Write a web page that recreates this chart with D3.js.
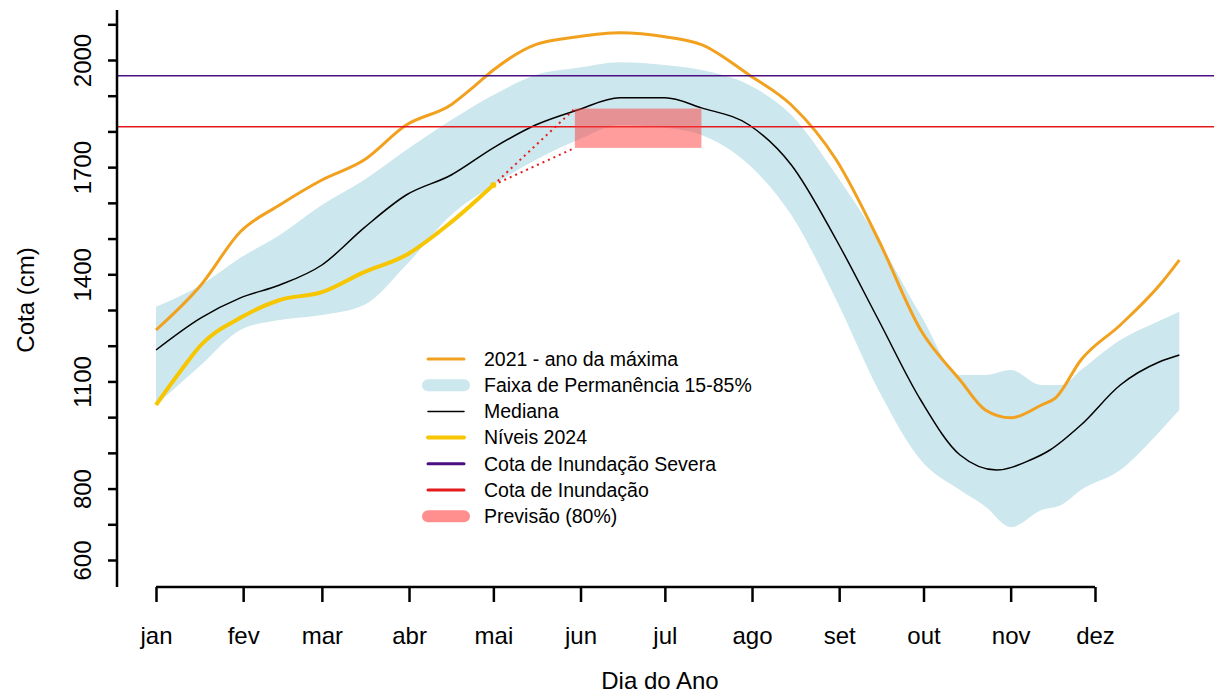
<!DOCTYPE html>
<html><head><meta charset="utf-8">
<script src="https://cdn.jsdelivr.net/npm/d3@7"></script>
<style>body{margin:0;background:#fff}svg{font-family:"Liberation Sans",Arial,sans-serif}</style>
</head><body>
<svg id="main" width="1214" height="695"></svg>
<script>
const months = ['jan','fev','mar','abr','mai','jun','jul','ago','set','out','nov','dez']
const monthDays = [1,32,60,91,121,152,182,213,244,274,305,335]
const yTicks = d3.range(600, 2101, 100)
const yLabels = [600,800,1100,1400,1700,2000]

const maxDays = [1,17,31,45,60,75,90,106,114,121,136,151,166,182,195,212,227,243,258,273,287,296,305,316,321,330,344,358,365]
const maxVals = [1244,1370,1519,1594,1664,1720,1818,1875,1925,1972,2043,2065,2076,2065,2043,1958,1874,1720,1496,1244,1104,1020,998,1034,1054,1160,1258,1370,1440]

const medDays = [1,17,31,45,60,75,90,106,121,136,151,166,182,195,212,227,243,258,273,287,300,312,319,330,344,358,365]
const medVals = [1188,1278,1334,1370,1426,1530,1622,1678,1754,1818,1860,1894,1894,1866,1818,1706,1496,1272,1048,894,852,880,908,978,1090,1155,1174]

const bandDays = [1,17,31,45,60,75,90,106,121,136,151,166,182,195,212,227,243,258,273,287,296,305,316,323,330,344,358,365]
const bandHi = [1309,1370,1446,1510,1594,1664,1748,1832,1902,1958,1978,1994,1986,1972,1930,1846,1678,1496,1286,1118,1118,1132,1090,1090,1132,1216,1270,1295]
const bandLo = [1034,1146,1244,1272,1286,1314,1426,1566,1650,1720,1776,1818,1810,1790,1706,1566,1328,1076,880,796,750,692,740,754,796,852,960,1020]

const y24Days = [1,10,17,31,45,60,75,90,106,121]
const y24Vals = [1034,1132,1202,1278,1328,1350,1406,1454,1546,1650]

const floodSevere = 1956
const flood = 1813
const forecastDays = [150,195]
const forecastRange = [1754,1864]

const svg = d3.select('#main')
const x = d3.scaleLinear().domain([1,335]).range([156,1095])
const y = d3.scaleLinear().domain([600,2000]).range([560,60])

const band = bandDays.map((d,i)=>({d, hi:bandHi[i], lo:bandLo[i]}))
svg.append('path').datum(band)
  .attr('d', d3.area().x(p=>x(p.d)).y0(p=>y(p.lo)).y1(p=>y(p.hi)).curve(d3.curveMonotoneX))
  .attr('fill', '#cce7ed')

const line = d3.line().x(p=>x(p[0])).y(p=>y(p[1])).curve(d3.curveMonotoneX)
svg.append('path').attr('d', line(maxDays.map((d,i)=>[d,maxVals[i]])))
  .attr('fill','none').attr('stroke','#f2a11f').attr('stroke-width',3)
svg.append('path').attr('d', line(medDays.map((d,i)=>[d,medVals[i]])))
  .attr('fill','none').attr('stroke','#000').attr('stroke-width',1.5)
svg.append('path').attr('d', line(y24Days.map((d,i)=>[d,y24Vals[i]])))
  .attr('fill','none').attr('stroke','#f7c600').attr('stroke-width',4)

svg.append('line').attr('x1',117).attr('x2',1214).attr('y1',y(floodSevere)).attr('y2',y(floodSevere))
  .attr('stroke','#4b0f82').attr('stroke-width',1.5)
svg.append('line').attr('x1',117).attr('x2',1214).attr('y1',y(flood)).attr('y2',y(flood))
  .attr('stroke','#e41a1c').attr('stroke-width',1.5)

// forecast
const lastD = y24Days[y24Days.length-1], lastV = y24Vals[y24Vals.length-1]
forecastRange.forEach(v=>{
  svg.append('line').attr('x1',x(lastD)).attr('y1',y(lastV)).attr('x2',x(forecastDays[0])).attr('y2',y(v))
    .attr('stroke','#e41a1c').attr('stroke-width',2).attr('stroke-dasharray','2,4')
})
svg.append('rect').attr('x',x(forecastDays[0])).attr('width',x(forecastDays[1])-x(forecastDays[0]))
  .attr('y',y(forecastRange[1])).attr('height',y(forecastRange[0])-y(forecastRange[1]))
  .attr('fill','#ff3b3b').attr('opacity',0.5)
svg.append('circle').attr('cx',x(lastD)).attr('cy',y(lastV)).attr('r',3).attr('fill','#f7c600')

// axes
const yAxis = svg.append('g').attr('transform','translate(117,0)')
  .call(d3.axisLeft(y).tickValues(yTicks).tickSize(9).tickFormat(d=>yLabels.includes(d)?d:''))
yAxis.select('.domain').attr('d','M0,10V587').attr('stroke-width',2.5)
yAxis.selectAll('.tick line').attr('stroke-width',2.5)
yAxis.selectAll('.tick text').attr('font-size',24)
  .attr('x',null).attr('text-anchor','middle')
  .attr('transform','translate(-34,0) rotate(-90)').attr('dy','0.35em')
const xAxis = svg.append('g').attr('transform','translate(0,587)')
  .call(d3.axisBottom(x).tickValues(monthDays).tickSize(15).tickFormat((d,i)=>months[i]))
xAxis.select('.domain').attr('d','M156,0H1095').attr('stroke-width',2.5)
xAxis.selectAll('.tick line').attr('stroke-width',2.5)
xAxis.selectAll('.tick text').attr('font-size',24).attr('y',40)
svg.selectAll('.tick text').attr('fill','#000').attr('font-family','"Liberation Sans",Arial,sans-serif')

svg.append('text').attr('x',660).attr('y',689).attr('text-anchor','middle').attr('font-size',24).text('Dia do Ano')
svg.append('text').attr('transform','translate(34,300) rotate(-90)').attr('text-anchor','middle').attr('font-size',24).text('Cota (cm)')

// legend
const legend = [
  ['2021 - ano da máxima','#f2a11f',3],
  ['Faixa de Permanência 15-85%','#cce7ed',12],
  ['Mediana','#000',1.5],
  ['Níveis 2024','#f7c600',4],
  ['Cota de Inundação Severa','#4b0f82',3],
  ['Cota de Inundação','#e41a1c',3],
  ['Previsão (80%)','#ff8f8f',12]
]
legend.forEach((l,i)=>{
  const ly = 359 + i*26.2
  svg.append('line').attr('x1',428).attr('x2',464).attr('y1',ly).attr('y2',ly)
    .attr('stroke',l[1]).attr('stroke-width',l[2]).attr('stroke-linecap','round')
  svg.append('text').attr('x',484).attr('y',ly).attr('dy','0.35em').attr('font-size',19.5).text(l[0])
})
</script>
</body></html>
